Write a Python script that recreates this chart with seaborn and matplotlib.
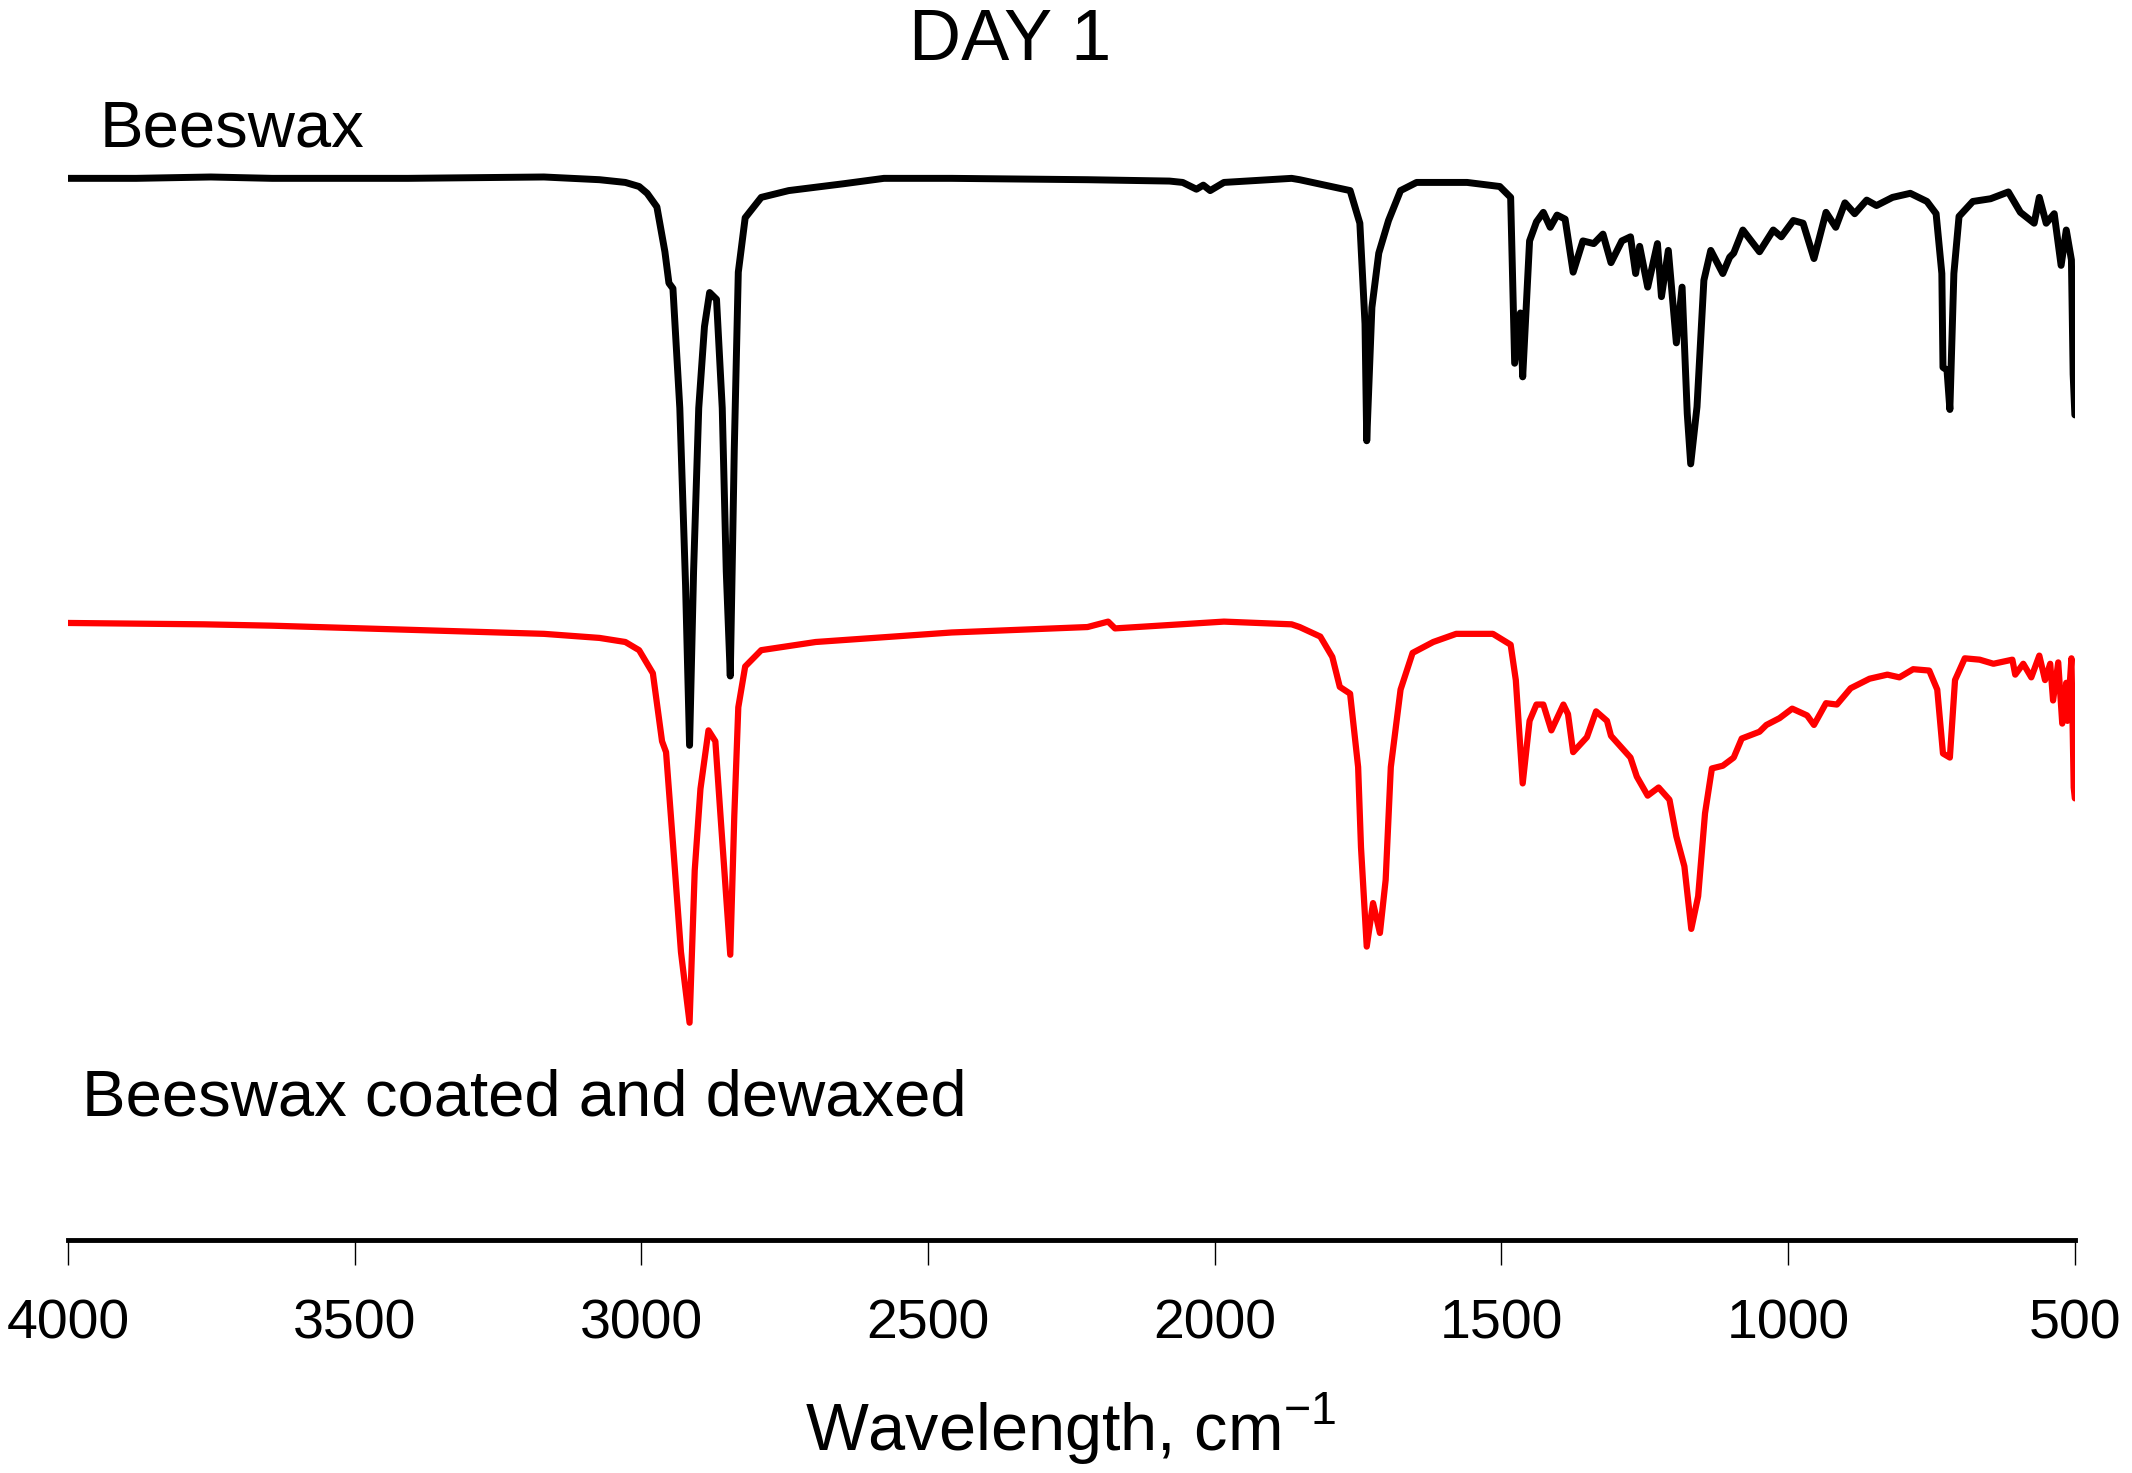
import pandas as pd
import matplotlib
matplotlib.use("Agg")
import matplotlib.pyplot as plt
import seaborn as sns

# wavenumber (cm-1) and transmittance (a.u.)
beeswax_wn = [4000, 3881, 3751, 3644, 3407, 3170, 3073, 3028, 3004, 2990, 2973, 2959, 2952, 2945,
              2933, 2923, 2916, 2909, 2900, 2890, 2881, 2869, 2859, 2852, 2845, 2838, 2831, 2819,
              2791, 2743, 2648, 2577, 2459, 2222, 2079, 2056, 2032, 2020, 2008, 1984, 1866, 1852,
              1764, 1747, 1738, 1735, 1726, 1714, 1697, 1676, 1648, 1560, 1503, 1484, 1477, 1467,
              1463, 1451, 1439, 1427, 1415, 1403, 1389, 1375, 1358, 1339, 1323, 1309, 1290, 1275,
              1266, 1259, 1245, 1228, 1221, 1209, 1195, 1185, 1176, 1170, 1159, 1147, 1135, 1114,
              1102, 1095, 1079, 1050, 1026, 1012, 991, 974, 955, 934, 917, 901, 884, 863, 846,
              818, 787, 758, 742, 732, 730, 723, 718, 711, 702, 678, 647, 616, 595, 571, 562,
              550, 536, 524, 515, 506, 503, 500]
beeswax_t = [78.1, 78.1, 78.2, 78.1, 78.1, 78.2, 78.0, 77.8, 77.5, 77.0, 76.0, 72.7, 70.4, 70.0,
             61.2, 48.2, 36.4, 49.2, 61.2, 67.2, 69.7, 69.2, 61.2, 49.2, 41.5, 58.2, 71.2, 75.2,
             76.7, 77.2, 77.7, 78.1, 78.1, 78.0, 77.9, 77.8, 77.3, 77.6, 77.2, 77.8, 78.1, 78.0,
             77.2, 74.8, 67.4, 58.8, 68.6, 72.6, 75.0, 77.2, 77.8, 77.8, 77.5, 76.7, 64.5, 68.2,
             63.5, 73.5, 74.9, 75.6, 74.5, 75.4, 75.1, 71.2, 73.5, 73.3, 74.0, 71.9, 73.5, 73.8,
             71.1, 73.1, 70.1, 73.3, 69.4, 72.8, 66.0, 70.1, 60.8, 57.1, 61.3, 70.6, 72.8, 71.1,
             72.3, 72.6, 74.3, 72.7, 74.3, 73.8, 75.0, 74.8, 72.2, 75.6, 74.5, 76.3, 75.5, 76.5, 76.1,
             76.7, 77.0, 76.4, 75.5, 71.1, 64.2, 64.0, 61.1, 71.1, 75.3, 76.4, 76.6, 77.1, 75.6, 74.8, 76.7,
             74.8, 75.5, 71.7, 74.3, 72.1, 63.7, 60.7]

dewaxed_wn = [4000, 3763, 3644, 3407, 3170, 3073, 3028, 3004, 2980, 2964, 2957, 2945, 2931, 2916,
              2907, 2897, 2883, 2871, 2862, 2845, 2838, 2831, 2819, 2791, 2696, 2459, 2222, 2186,
              2174, 1984, 1866, 1852, 1816, 1795, 1782, 1764, 1750, 1745, 1735, 1724, 1712, 1702,
              1693, 1676, 1655, 1619, 1579, 1515, 1484, 1475, 1463, 1451, 1439, 1427, 1413, 1392,
              1384, 1375, 1351, 1335, 1316, 1309, 1275, 1264, 1245, 1226, 1207, 1195, 1181, 1169,
              1157, 1145, 1133, 1114, 1095, 1081, 1050, 1038, 1015, 993, 967, 955, 934, 915, 891,
              858, 827, 806, 782, 754, 740, 730, 718, 709, 692, 666, 642, 609, 604, 590, 576, 562,
              552, 543, 538, 529, 522, 515, 513, 506, 502, 500]
dewaxed_t = [45.4, 45.3, 45.2, 44.9, 44.6, 44.3, 44.0, 43.4, 41.7, 36.7, 35.9, 29.2, 21.2, 16.0,
             27.2, 33.2, 37.5, 36.7, 31.2, 21.0, 31.2, 39.2, 42.2, 43.4, 44.0, 44.7, 45.1, 45.5,
             45.0, 45.5, 45.3, 45.1, 44.4, 42.9, 40.7, 40.2, 34.8, 28.9, 21.6, 24.8, 22.6, 26.5,
             34.8, 40.5, 43.2, 44.0, 44.6, 44.6, 43.8, 41.2, 33.6, 38.2, 39.4, 39.4, 37.5, 39.4,
             38.7, 35.9, 37.0, 38.9, 38.2, 37.1, 35.5, 34.1, 32.7, 33.3, 32.4, 29.7, 27.5, 22.9,
             25.3, 31.4, 34.7, 34.9, 35.5, 36.9, 37.4, 37.9, 38.4, 39.1, 38.6, 37.9, 39.5, 39.4, 40.6,
             41.3, 41.6, 41.4, 42.0, 41.9, 40.5, 35.8, 35.5, 41.2, 42.8, 42.7, 42.4, 42.7, 41.6, 42.4, 41.4, 43.0,
             41.2, 42.4, 39.7, 42.5, 38.0, 41.0, 38.2, 42.8, 33.3, 32.5]

xticks = [4000, 3500, 3000, 2500, 2000, 1500, 1000, 500]


def main() -> None:
    sns.set_style("white")
    plt.rcParams["font.family"] = ["Liberation Sans", "DejaVu Sans"]
    plt.rcParams["text.color"] = "black"
    plt.rcParams["axes.labelcolor"] = "black"
    plt.rcParams["mathtext.fontset"] = "custom"
    plt.rcParams["mathtext.rm"] = "Liberation Sans"

    df_a = pd.DataFrame({"wn": beeswax_wn, "t": beeswax_t})
    df_b = pd.DataFrame({"wn": dewaxed_wn, "t": dewaxed_t})

    fig = plt.figure(figsize=(21.32, 14.73), dpi=100)
    ax = fig.add_axes([0.0319, 0.158, 0.9413, 0.78])

    sns.lineplot(data=df_a, x="wn", y="t", color="black", linewidth=5,
                 estimator=None, sort=False, ax=ax,
                 solid_joinstyle="round", solid_capstyle="round")
    sns.lineplot(data=df_b, x="wn", y="t", color="red", linewidth=4.5,
                 estimator=None, sort=False, ax=ax,
                 solid_joinstyle="round", solid_capstyle="round")

    ax.set_xlim(4000, 500)
    ax.set_ylim(0, 84.5)
    ax.set_xticks(xticks)
    ax.set_xticklabels([str(v) for v in xticks])
    ax.set_yticks([])
    ax.set_ylabel("")
    ax.set_xlabel("")

    for side in ["top", "right", "left"]:
        ax.spines[side].set_visible(False)
    ax.spines["bottom"].set_linewidth(3.5)
    ax.spines["bottom"].set_color("black")
    ax.tick_params(axis="x", direction="out", length=18, width=1, pad=24,
                   labelsize=40, colors="black", bottom=True)

    fig.text(0.502, 0.030, r"Wavelength, cm$^{\mathregular{-1}}$", ha="center", va="center",
             fontsize=48)
    fig.text(0.474, 0.972, "DAY 1", ha="center", va="center", fontsize=52)
    fig.text(0.0466, 0.912, "Beeswax", ha="left", va="center", fontsize=47)
    fig.text(0.0383, 0.254, "Beeswax coated and dewaxed", ha="left", va="center", fontsize=47)

    fig.savefig("out.png", dpi=100)


if __name__ == "__main__":
    main()
